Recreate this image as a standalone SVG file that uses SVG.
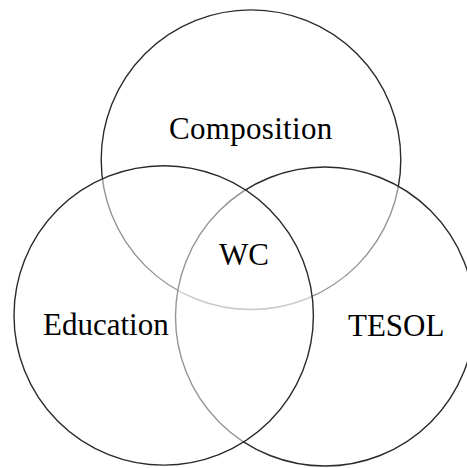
<svg xmlns="http://www.w3.org/2000/svg" width="467" height="468" viewBox="0 0 467 468">
<style>
.c{fill:#fff;fill-opacity:0.5;stroke:#2a2a2a;stroke-width:1.4}
.t{font-family:"Liberation Serif","Times New Roman",serif;font-size:31px;fill:#000}
</style>
<rect width="467" height="468" fill="#fff"/>
<g id="composition"><circle class="c" cx="251" cy="159.7" r="149.8"/></g>
<g id="tesol"><circle class="c" cx="325" cy="316.5" r="149.5"/></g>
<g id="education"><circle class="c" cx="163.7" cy="315.4" r="149.7"/></g>
<g id="connectors"></g>
<g id="labels">
<text class="t" x="169" y="138.5" letter-spacing="0.3">Composition</text>
<text class="t" x="219" y="265">WC</text>
<text class="t" x="43" y="335">Education</text>
<text class="t" x="348" y="335.5">TESOL</text>
</g>
</svg>
